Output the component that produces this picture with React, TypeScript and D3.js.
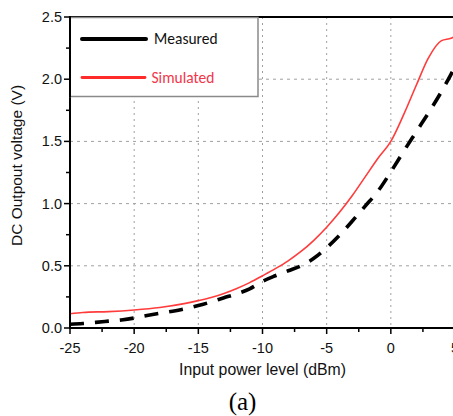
import React from "react";
import * as d3 from "d3";

const simX = [-25, -24, -22, -20, -18, -16, -15, -14, -13, -12, -11, -10, -9, -8, -7, -6, -5, -4, -3, -2, -1, 0, 1, 2, 2.9, 3.95, 4.7, 5];
const simY = [0.115, 0.125, 0.132, 0.145, 0.165, 0.198, 0.22, 0.245, 0.278, 0.318, 0.365, 0.42, 0.477, 0.54, 0.615, 0.705, 0.81, 0.93, 1.065, 1.215, 1.365, 1.5, 1.715, 1.955, 2.165, 2.31, 2.33, 2.345];

const measX = [-25, -24, -23, -22, -21, -20, -19, -18, -17, -16, -15, -14, -13, -12, -11, -10, -9, -8, -7, -6, -5, -4, -3, -2, -1, 0, 1, 2, 3, 4, 5];
const measY = [0.03, 0.036, 0.045, 0.055, 0.065, 0.08, 0.1, 0.118, 0.135, 0.155, 0.18, 0.21, 0.243, 0.275, 0.315, 0.375, 0.42, 0.46, 0.5, 0.56, 0.645, 0.745, 0.86, 0.98, 1.1, 1.255, 1.42, 1.58, 1.74, 1.91, 2.1];

const xTicks = [-25, -20, -15, -10, -5, 0, 5];
const xMinor = [-22.5, -17.5, -12.5, -7.5, -2.5, 2.5];
const yTicks = [0, 0.5, 1.0, 1.5, 2.0, 2.5];
const yMinor = [0.25, 0.75, 1.25, 1.75, 2.25];
const xGrid = [-20, -15, -10, -5, 0];
const yGrid = [0.5, 1.0, 1.5, 2.0];

const legendLabels = ["Measured", "Simulated"];

export default function App() {
  const W = 453, H = 416;
  const left = 70, right = 455, top = 17, bottom = 328;
  const x = d3.scaleLinear().domain([-25, 5]).range([left, right]);
  const y = d3.scaleLinear().domain([0, 2.5]).range([bottom, top]);

  const line = d3.line<[number, number]>().x(d => x(d[0])).y(d => y(d[1])).curve(d3.curveMonotoneX);
  const simPath = line(simX.map((v, i) => [v, simY[i]]) as [number, number][]) || "";
  const measPath = line(measX.map((v, i) => [v, measY[i]]) as [number, number][]) || "";

  const font = "Arial, 'Liberation Sans', sans-serif";
  const legendFont = "Carlito, Calibri, Lato, sans-serif";

  return (
    <svg width={W} height={H} style={{ position: "absolute", left: 0, top: 0, background: "#fff" }} fontFamily={font}>
      <rect x={0} y={0} width={W} height={H} fill="#fff" />
      {/* grid */}
      {xGrid.map(v => (
        <line key={"gx" + v} x1={x(v)} x2={x(v)} y1={top} y2={bottom} stroke="#a0a0a0" strokeWidth={1} strokeDasharray="2 4" />
      ))}
      {yGrid.map(v => (
        <line key={"gy" + v} x1={left} x2={W} y1={y(v)} y2={y(v)} stroke="#a0a0a0" strokeWidth={1} strokeDasharray="3 4" />
      ))}
      {/* curves */}
      <path d={simPath} fill="none" stroke="#ff3c3c" strokeWidth={1.6} />
      <path d={measPath} fill="none" stroke="#000" strokeWidth={3.6} strokeDasharray="14 11" />
      {/* axes */}
      <line x1={left} x2={W} y1={top} y2={top} stroke="#000" strokeWidth={2} />
      <line x1={left} x2={left} y1={top - 1} y2={bottom + 1} stroke="#000" strokeWidth={2} />
      <line x1={left - 1} x2={W} y1={bottom} y2={bottom} stroke="#000" strokeWidth={2} />
      {yTicks.map(v => (
        <g key={"yt" + v}>
          <line x1={left - 6} x2={left} y1={y(v)} y2={y(v)} stroke="#000" strokeWidth={1.5} />
          <text x={62} y={y(v)} dy="0.35em" textAnchor="end" fontSize={14.5} fill="#111">{v.toFixed(1)}</text>
        </g>
      ))}
      {yMinor.map(v => (
        <line key={"ym" + v} x1={left - 4} x2={left} y1={y(v)} y2={y(v)} stroke="#000" strokeWidth={1.5} />
      ))}
      {xTicks.map(v => (
        <g key={"xt" + v}>
          <line x1={x(v)} x2={x(v)} y1={bottom} y2={bottom + 6} stroke="#000" strokeWidth={1.5} />
          <text x={x(v)} y={353} textAnchor="middle" fontSize={14.5} fill="#111">{v < 0 ? "-" + Math.abs(v) : String(v)}</text>
        </g>
      ))}
      {xMinor.map(v => (
        <line key={"xm" + v} x1={x(v)} x2={x(v)} y1={bottom} y2={bottom + 4} stroke="#000" strokeWidth={1.5} />
      ))}
      {/* legend */}
      <rect x={left} y={17.5} width={188} height={79} fill="#fff" stroke="#8a8a8a" strokeWidth={1.5} />
      <line x1={left} x2={left} y1={top - 1} y2={97} stroke="#000" strokeWidth={2} />
      <line x1={82} x2={146} y1={39} y2={39} stroke="#000" strokeWidth={4} strokeLinecap="round" />
      <text x={154} y={44} fontSize={15.5} fontFamily={legendFont} fill="#111">{legendLabels[0]}</text>
      <line x1={82} x2={145} y1={77.5} y2={77.5} stroke="#ff2a2a" strokeWidth={2.8} strokeLinecap="round" />
      <text x={151.5} y={82.5} fontSize={15.5} fontFamily={legendFont} fill="#f2364a">{legendLabels[1]}</text>
      {/* titles */}
      <text x={262.5} y={375} textAnchor="middle" fontSize={15.8} fill="#111">Input power level (dBm)</text>
      <text transform="translate(21.5,165.5) rotate(-90)" textAnchor="middle" fontSize={15.5} fill="#111">DC Outpout voltage (V)</text>
      <text x={242.5} y={410} textAnchor="middle" fontSize={25} fontFamily="'Times New Roman', 'Liberation Serif', serif" fill="#000">(a)</text>
    </svg>
  );
}
